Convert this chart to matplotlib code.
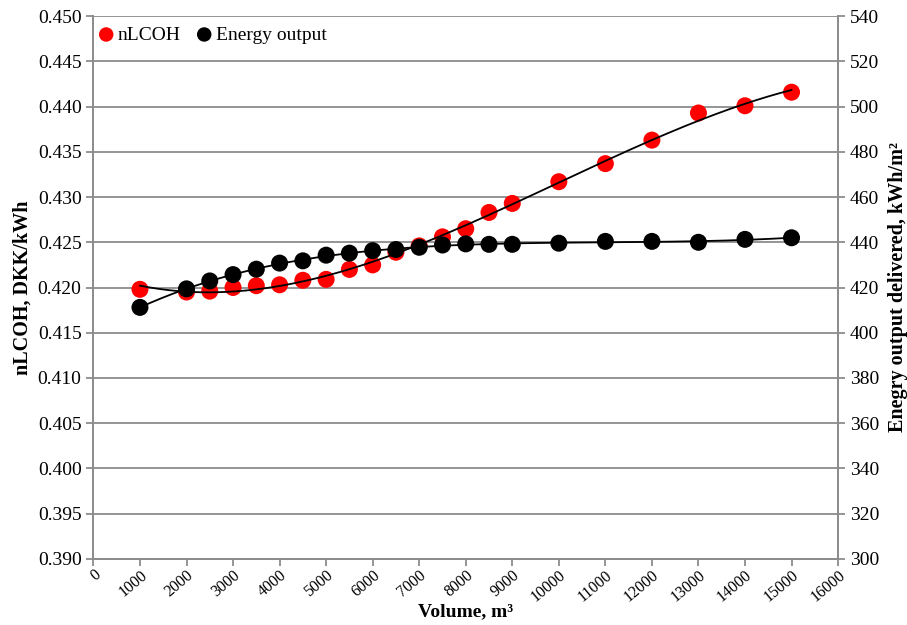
import numpy as np
import matplotlib.pyplot as plt

plt.rcParams['font.family'] = ['Liberation Serif', 'DejaVu Serif']

volume = [1000, 2000, 2500, 3000, 3500, 4000, 4500, 5000, 5500, 6000, 6500,
          7000, 7500, 8000, 8500, 9000, 10000, 11000, 12000, 13000, 14000, 15000]
nlcoh = [0.4198, 0.4195, 0.4196, 0.4200, 0.4202, 0.4203, 0.4208, 0.4209,
         0.4220, 0.4225, 0.4239, 0.4246, 0.4256, 0.4265, 0.4283, 0.4293,
         0.4317, 0.4337, 0.4363, 0.4393, 0.4401, 0.4416]
energy = [411.2, 419.4, 422.9, 425.7, 428.1, 430.8, 431.8, 434.3, 435.2,
          436.3, 436.8, 437.8, 438.8, 439.3, 439.1, 439.1, 439.6, 440.4,
          440.4, 440.0, 441.3, 442.0]

grey = '#8c8c8c'

fig, ax = plt.subplots(figsize=(9.07, 6.25), dpi=100)
ax2 = ax.twinx()
fig.subplots_adjust(left=0.103, right=0.924, top=0.974, bottom=0.106)

# polynomial trendlines
xs = np.linspace(min(volume), max(volume), 300)
p_red = np.polyfit(volume, nlcoh, 3)
p_blk = np.polyfit(volume, energy, 5)
ax.plot(xs, np.polyval(p_red, xs), color='black', lw=1.3, zorder=3)
ax2.plot(xs, np.polyval(p_blk, xs), color='black', lw=1.3, zorder=3)

h1 = ax.scatter(volume, nlcoh, s=150, color='#ff0000', zorder=2, label='nLCOH',
                edgecolors='none')
h2 = ax2.scatter(volume, energy, s=150, color='black', zorder=4,
                 label='Energy output', edgecolors='none')

ax.set_xlim(0, 16000)
ax.set_ylim(0.390, 0.450)
ax2.set_ylim(300, 540)
ax.set_xticks(np.arange(0, 16001, 1000))
ax.set_yticks(np.arange(0.390, 0.4501, 0.005))
ax2.set_yticks(np.arange(300, 541, 20))
ax.set_yticklabels([f'{v:.3f}' for v in np.arange(0.390, 0.4501, 0.005)])
ax.set_xticklabels([str(v) for v in range(0, 16001, 1000)], rotation=40,
                   ha='right', rotation_mode='anchor')

ax.grid(axis='y', color=grey, lw=1.3)
ax.set_axisbelow(True)
for a in (ax, ax2):
    for side, sp in a.spines.items():
        sp.set_color(grey)
        sp.set_linewidth(1.3)
    a.spines['top'].set_visible(False)
    a.tick_params(colors=grey, labelcolor='black', labelsize=14, width=1.3,
                  length=5)
ax.tick_params(axis='x', labelsize=11.5, pad=1)

ax.set_xlabel('Volume, m³', fontsize=14, fontweight='bold', va='center')
ax.xaxis.set_label_coords(0.5, -0.097)
ax.set_ylabel('nLCOH, DKK/kWh', fontsize=14.5, fontweight='bold', labelpad=4)
ax2.set_ylabel('Enegry output delivered, kWh/m²', fontsize=14.5,
               fontweight='bold', rotation=90, labelpad=6)

ax.legend(handles=[h1, h2], loc='upper left', frameon=False, fontsize=14,
          ncol=2, handletextpad=-0.4, columnspacing=0.2, markerscale=0.85,
          borderaxespad=0.1, bbox_to_anchor=(-0.022, 1.0))

fig.savefig('out.png', dpi=100)
